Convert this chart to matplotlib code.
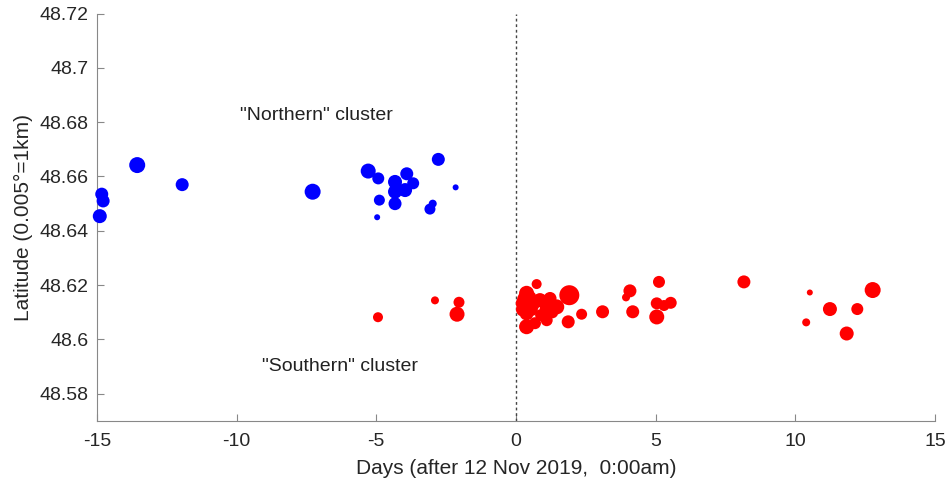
import matplotlib.pyplot as plt

plt.rcParams['font.family'] = ['Liberation Sans', 'DejaVu Sans']
plt.rcParams['axes.unicode_minus'] = False

# "Northern" cluster (blue): day, latitude, marker diameter (px)
north_days = [-14.90, -14.83, -14.78, -13.56, -11.95, -7.28, -5.29, -4.93, -4.89, -4.97,
              -4.33, -4.33, -4.33, -3.91, -3.97, -3.68, -3.08, -2.98, -2.78, -2.16]
north_lat = [48.6454, 48.6535, 48.6510, 48.6642, 48.6570, 48.6544, 48.6620, 48.6593, 48.6513, 48.6450,
             48.6580, 48.6544, 48.6500, 48.6610, 48.6550, 48.6575, 48.6480, 48.6500, 48.6663, 48.6560]
north_size = [14, 13, 13, 16, 13, 16, 15, 12, 11, 6,
              14, 14, 13, 13, 14, 12, 11, 8, 13, 6]

# "Southern" cluster (red)
south_days = [-4.94, -2.90, -2.04, -2.11,
              0.74, 0.38, 0.26, 0.38, 0.38, 0.68, 0.86, 1.10, 1.22, 1.46, 1.10,
              0.30, 0.55, 0.90, 0.62, 1.30, 0.25, 0.50,
              1.91, 1.87, 2.35, 3.10, 4.08, 3.94, 4.18, 5.12, 5.04, 5.04, 5.54, 5.30,
              8.16, 10.52, 12.77, 11.24, 12.22, 10.39, 11.84]
south_lat = [48.6082, 48.6144, 48.6137, 48.6093,
             48.6204, 48.6170, 48.6133, 48.6096, 48.6047, 48.6060, 48.6145, 48.6114, 48.6151, 48.6120, 48.6071,
             48.6150, 48.6110, 48.6090, 48.6130, 48.6100, 48.6110, 48.6155,
             48.6163, 48.6065, 48.6093, 48.6102, 48.6179, 48.6155, 48.6102, 48.6212, 48.6133, 48.6083, 48.6135, 48.6125,
             48.6212, 48.6173, 48.6182, 48.6112, 48.6112, 48.6063, 48.6022]
south_size = [10, 8, 11, 15,
              10, 15, 15, 14, 15, 12, 14, 14, 13, 15, 12,
              14, 13, 12, 13, 12, 14, 13,
              20, 13, 11, 13, 13, 8, 13, 12, 12, 15, 12, 11,
              13, 6, 16, 14, 12, 8, 14]

x_ticks = [-15, -10, -5, 0, 5, 10, 15]
y_ticks = [48.58, 48.6, 48.62, 48.64, 48.66, 48.68, 48.7, 48.72]
y_tick_labels = ['48.58', '48.6', '48.62', '48.64', '48.66', '48.68', '48.7', '48.72']

dpi = 100
figure = plt.figure(figsize=(9.49, 4.84), dpi=dpi)
axes = figure.add_axes([0.1022, 0.1302, 0.8830, 0.8419])


def to_area(diams):
    # marker diameter in pixels -> scatter area in points^2
    return [(d * 72 / dpi) ** 2 for d in diams]


axes.scatter(north_days, north_lat, s=to_area(north_size), color='#0000ff', linewidths=0, zorder=3,
             clip_on=False)
axes.scatter(south_days, south_lat, s=to_area(south_size), color='#ff0000', linewidths=0, zorder=3,
             clip_on=False)
axes.axvline(0, color='#444444', linestyle=(0, (2, 2)), linewidth=1.0, zorder=2)

axes.text(-7.16, 48.6826, '"Northern" cluster', ha='center', va='center', fontsize=14, color='#222222')
axes.text(-6.3, 48.5900, '"Southern" cluster', ha='center', va='center', fontsize=14, color='#222222')

axes.set_xlim(-15, 15)
axes.set_ylim(48.57, 48.72)
axes.set_xticks(x_ticks)
axes.set_yticks(y_ticks)
axes.set_yticklabels(y_tick_labels)
axes.tick_params(direction='in', length=5, colors='#888888', labelcolor='#262626', labelsize=14)
axes.tick_params(axis='x', pad=9)
axes.tick_params(axis='y', pad=6)

for side in ['top', 'right']:
    axes.spines[side].set_visible(False)
for side in ['left', 'bottom']:
    axes.spines[side].set_color('#888888')

axes.set_xlabel('Days (after 12 Nov 2019,  0:00am)', fontsize=15, color='#262626', labelpad=6)
axes.set_ylabel('Latitude (0.005°=1km)', fontsize=15, color='#262626', labelpad=5)

figure.savefig('out.png', dpi=dpi)
